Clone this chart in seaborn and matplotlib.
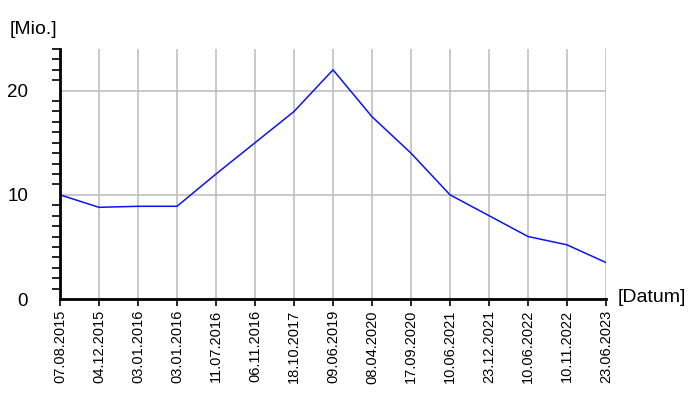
import matplotlib
matplotlib.use("Agg")
import matplotlib.pyplot as plt
import seaborn as sns
import pandas as pd
import numpy as np
from matplotlib.ticker import MultipleLocator

dates = ["07.08.2015", "04.12.2015", "03.01.2016", "03.01.2016", "11.07.2016",
         "06.11.2016", "18.10.2017", "09.06.2019", "08.04.2020", "17.09.2020",
         "10.06.2021", "23.12.2021", "10.06.2022", "10.11.2022", "23.06.2023"]
values = [10.0, 8.8, 8.9, 8.9, 12.0, 15.0, 18.0, 22.0, 17.5, 14.0,
          10.0, 8.0, 6.0, 5.2, 3.5]

sns.set_style("white")
plt.rcParams['font.family'] = ['Liberation Sans', 'DejaVu Sans']
plt.rcParams['text.color'] = 'black'
plt.rcParams['xtick.color'] = 'black'
plt.rcParams['ytick.color'] = 'black'

df = pd.DataFrame({"pos": np.arange(len(dates)), "value": values})

fig = plt.figure(figsize=(7, 4), dpi=100)
ax = fig.add_axes([60/700, 1-299/400, (606-60)/700, (299-49)/400])

ax.grid(True, axis="both", color="#c0c0c0", linewidth=1.2)
ax.set_axisbelow(True)
sns.lineplot(data=df, x="pos", y="value", ax=ax, color="#0a14f0", linewidth=1.1)

ax.set_xlim(0, len(dates) - 1)
ax.set_ylim(0, 24)
ax.set_xticks(df["pos"])
ax.set_xticklabels(dates, rotation=90, fontsize=10.5)
ax.set_yticks([0, 10, 20])
ax.set_yticklabels(["0", "10", "20"], fontsize=13.5)
ax.yaxis.set_minor_locator(MultipleLocator(1))
ax.tick_params(axis="y", which="major", direction="out", length=10, width=1.5, color="black", labelcolor="black", pad=13)
ax.tick_params(axis="y", which="minor", direction="out", length=6, width=1.2, color="black", left=True)
ax.tick_params(axis="x", which="major", direction="out", length=5, width=1.2, color="black", labelcolor="black", bottom=True, pad=3)
ax.set_xlabel("")
ax.set_ylabel("")

for s in ["top", "right"]:
    ax.spines[s].set_visible(False)
for s in ["left", "bottom"]:
    ax.spines[s].set_color("black")
    ax.spines[s].set_linewidth(2)

fig.text(10/700, 1-30/400, "[Mio.]", fontsize=14, va="center", ha="left", color="black")
fig.text(618/700, 1-298/400, "[Datum]", fontsize=14, va="center", ha="left", color="black")

fig.savefig("out.png", dpi=100)
